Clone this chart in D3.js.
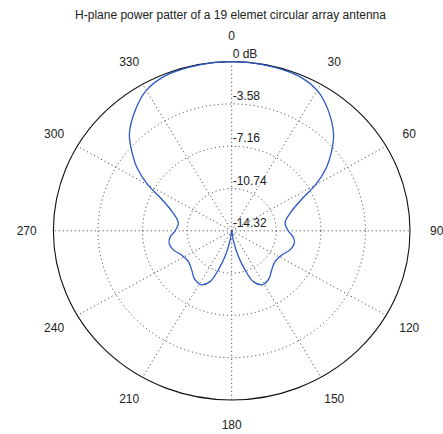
<!DOCTYPE html>
<html>
<head>
<meta charset="utf-8">
<script src="https://cdn.jsdelivr.net/npm/d3@7"></script>
<style>
  html, body { margin: 0; padding: 0; background: #fff; }
  svg { display: block; font-family: "Liberation Sans", Arial, sans-serif; }
</style>
</head>
<body>
<svg id="chart" width="443" height="434"></svg>
<script>
// Pattern samples: azimuth (degrees, clockwise from 0) and normalized power (dB)
const azimuthDeg = [0, 10, 22, 30, 37, 45, 50, 55, 60, 64, 72, 81, 90, 96, 102, 109, 117, 127, 136, 143, 149, 152, 158, 162, 166, 171, 180,
                    189, 194, 198, 202, 208, 211, 217, 224, 233, 243, 251, 258, 264, 270, 279, 288, 296, 300, 305, 310, 315, 323, 330, 338, 350];
const powerDb = [0, -0.03, -0.15, -0.6, -1.48, -2.75, -3.85, -5.05, -6.55, -7.95, -9.35, -9.98, -9.78, -9.35, -9.18, -9.36, -9.8, -9.97, -9.7, -9.3, -9.13, -9.14, -9.68, -10.82, -12.05, -13.55, -14.32,
                 -13.55, -12.05, -10.82, -9.68, -9.14, -9.13, -9.3, -9.7, -9.97, -9.8, -9.36, -9.18, -9.35, -9.78, -9.98, -9.35, -7.95, -6.55, -5.05, -3.85, -2.7, -1.48, -0.6, -0.15, -0.03];

// Grid rings and their labels
const ringDb = [-10.74, -7.16, -3.58, 0];
const ringLabelDb = [-14.32, -10.74, -7.16, -3.58, 0];
const ringLabels = ["-14.32", "-10.74", "-7.16", "-3.58", "0 dB"];

// Spokes and angle labels
const spokeDeg = [0, 30, 60, 90, 120, 150, 180, 210, 240, 270, 300, 330];
const spokeLabels = ["0", "30", "60", "90", "120", "150", "180", "210", "240", "270", "300", "330"];

const titleText = "H-plane power patter of a 19 elemet circular array antenna";

const svg = d3.select("#chart");
const cx = 231.7, cy = 230.8, rx = 178.3, ry = 169.2;

// radial scale: dB -> fraction of the outer radius
const rScale = d3.scaleLinear().domain([-14.32, 0]).range([0, 1]).clamp(true);
const toRad = d => d * Math.PI / 180;
const px = (deg, f) => cx + f * rx * Math.sin(toRad(deg));
const py = (deg, f) => cy - f * ry * Math.cos(toRad(deg));

const grid = svg.append("g");

// dotted spokes
grid.selectAll("line.spoke").data(spokeDeg).join("line")
  .attr("class", "spoke")
  .attr("x1", cx).attr("y1", cy)
  .attr("x2", d => px(d, 1)).attr("y2", d => py(d, 1))
  .attr("stroke", "#333").attr("stroke-width", 1)
  .attr("stroke-dasharray", "1,3");

// dotted inner rings
grid.selectAll("ellipse.ring").data(ringDb.slice(0, -1)).join("ellipse")
  .attr("class", "ring")
  .attr("cx", cx).attr("cy", cy)
  .attr("rx", d => rScale(d) * rx).attr("ry", d => rScale(d) * ry)
  .attr("fill", "none").attr("stroke", "#333").attr("stroke-width", 1)
  .attr("stroke-dasharray", "1,3");

// solid outer ring
grid.append("ellipse")
  .attr("cx", cx).attr("cy", cy)
  .attr("rx", rScale(0) * rx).attr("ry", rScale(0) * ry)
  .attr("fill", "none").attr("stroke", "#111").attr("stroke-width", 1.1);

// ring labels
svg.selectAll("text.ringlab").data(ringLabelDb).join("text")
  .attr("class", "ringlab")
  .attr("x", cx + 1)
  .attr("y", (d, i) => py(0, rScale(d)) - 4)
  .attr("font-size", 12).attr("fill", "#222")
  .text((d, i) => ringLabels[i]);

// angle labels
svg.selectAll("text.anglab").data(spokeDeg).join("text")
  .attr("class", "anglab")
  .attr("x", d => px(d, 1.15))
  .attr("y", d => py(d, 1.15))
  .attr("text-anchor", "middle").attr("dominant-baseline", "central")
  .attr("font-size", 12).attr("fill", "#222")
  .text((d, i) => spokeLabels[i]);

// pattern trace
const pts = azimuthDeg.map((a, i) => [px(a, rScale(powerDb[i])), py(a, rScale(powerDb[i]))]);
svg.append("path")
  .attr("d", d3.line().curve(d3.curveCatmullRomClosed.alpha(0.5))(pts))
  .attr("fill", "none").attr("stroke", "#2a56c6").attr("stroke-width", 1.3);

// title
svg.append("text")
  .attr("x", 230.5).attr("y", 15)
  .attr("text-anchor", "middle").attr("dominant-baseline", "central")
  .attr("font-size", 12).attr("fill", "#222")
  .text(titleText);
</script>
</body>
</html>
